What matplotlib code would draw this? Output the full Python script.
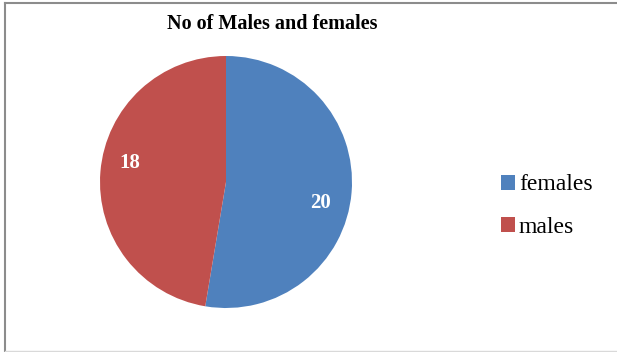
import matplotlib.pyplot as plt
from matplotlib.lines import Line2D
from matplotlib.patches import Patch

labels = ["females", "males"]
counts = [20, 18]
colors = ["#4F81BD", "#C0504D"]

plt.rcParams['font.family'] = ['Liberation Serif', 'DejaVu Serif']

fig = plt.figure(figsize=(6.17, 3.52), dpi=100)

# chart border: left, top and bottom (right side runs off the picture)
x0, y0, y1 = 4.5 / 617, 1.5 / 352, 1 - 3 / 352
fig.add_artist(Line2D([x0, x0], [y0, y1], transform=fig.transFigure, color="#8c8c8c", lw=1.5))
fig.add_artist(Line2D([x0, 1], [y1, y1], transform=fig.transFigure, color="#8c8c8c", lw=1.5))
fig.add_artist(Line2D([x0, 1], [y0, y0], transform=fig.transFigure, color="#d9d9d9", lw=1.0))

ax = fig.add_axes([100 / 617, 44 / 352, 252 / 617, 252 / 352])
wedges, _ = ax.pie(counts, colors=colors, startangle=90, counterclock=False,
                   wedgeprops=dict(linewidth=0))
ax.set_xlim(-1, 1)
ax.set_ylim(-1, 1)
ax.set_aspect("equal")

# data labels (Excel-style positions)
label_pos = [(0.75, -0.17), (-0.76, 0.15)]
for (lx, ly), v in zip(label_pos, counts):
    ax.text(lx, ly, str(v), color="white", fontsize=15, fontweight="bold",
            ha="center", va="center")

fig.text(272 / 617, 1 - 24 / 352, "No of Males and females", ha="center", va="center",
         fontsize=14.5, fontweight="bold")

handles = [Patch(facecolor=c, edgecolor="none") for c in colors]
fig.legend(handles, labels, loc="center left", bbox_to_anchor=(480 / 617, 1 - 206 / 352),
           frameon=False, fontsize=17, handlelength=0.6, handleheight=0.6,
           handletextpad=0.15, labelspacing=0.9)

fig.savefig("out.png", dpi=100)
